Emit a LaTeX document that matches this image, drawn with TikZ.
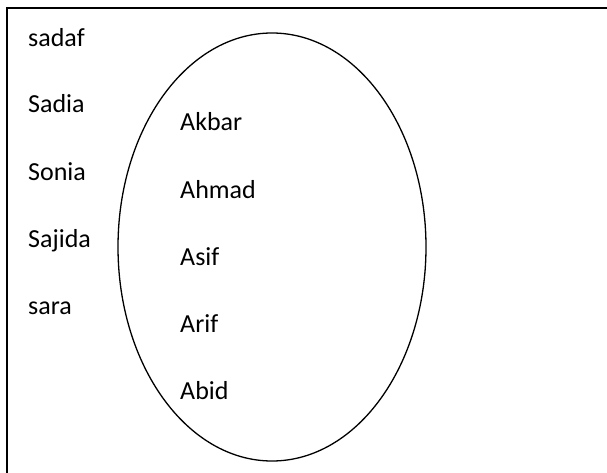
\documentclass[tikz,border=0pt]{standalone}
\usepackage{fontspec}
\setmainfont{Carlito}
\begin{document}
\begin{tikzpicture}[x=1pt,y=-1pt,
  lbl/.style={anchor=base west, inner sep=0pt, font=\fontsize{26}{30}\selectfont},
  frame/.style={line width=1.5pt, black}]
\useasboundingbox (0,0) rectangle (607,473);
\coordinate (tl) at (7,8);
\coordinate (tr) at (607,8);
\coordinate (bl) at (7,473);
\draw[frame] (tr) -- (tl) -- (bl);
\draw[line width=1.3pt] (272,247) ellipse [x radius=154, y radius=214];
\node[lbl] (n1) at (28,47) {sadaf};
\node[lbl] (n2) at (28,113) {Sadia};
\node[lbl] (n3) at (28,180) {Sonia};
\node[lbl] (n4) at (28,247) {Sajida};
\node[lbl] (n5) at (28,314) {sara};
\node[lbl] (m1) at (180,131) {Akbar};
\node[lbl] (m2) at (180,198) {Ahmad};
\node[lbl] (m3) at (180,265) {Asif};
\node[lbl] (m4) at (180,332) {Arif};
\node[lbl] (m5) at (180,399) {Abid};
\end{tikzpicture}
\end{document}
